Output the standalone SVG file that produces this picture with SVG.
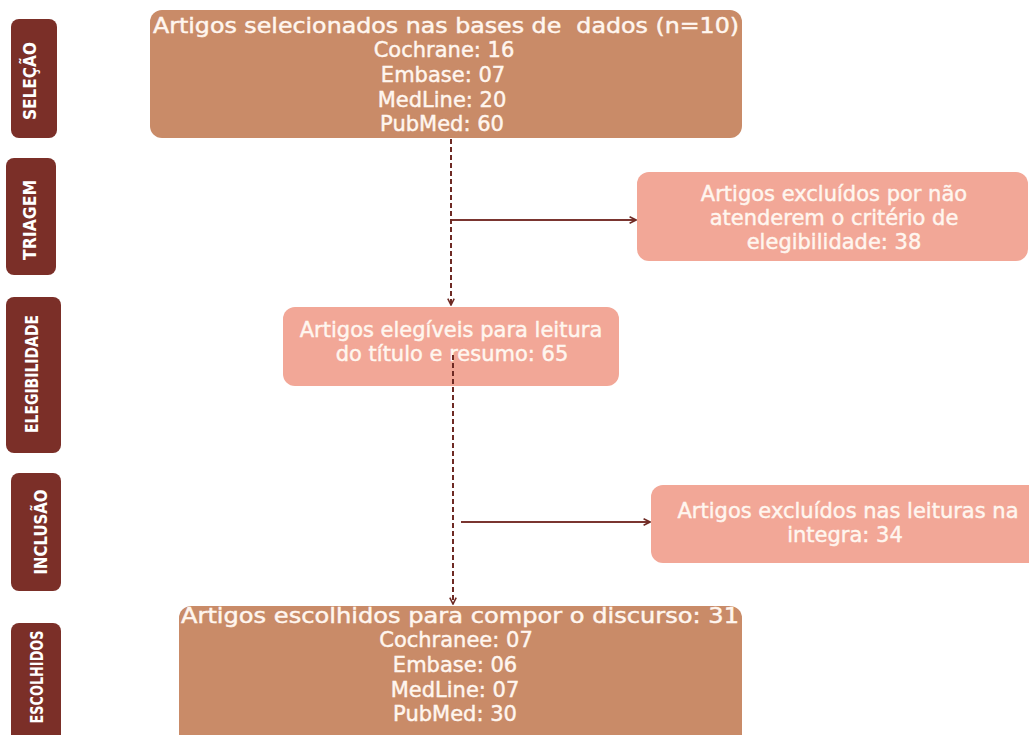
<svg xmlns="http://www.w3.org/2000/svg" width="1029" height="735" viewBox="0 0 1029 735">
<style>
.stage{fill:#7B2F28}
.stxt{font-family:"DejaVu Sans Condensed","DejaVu Sans",sans-serif;font-weight:bold;font-size:18px;fill:#FFFFFF;text-anchor:middle}
.main{fill:#C98B68}
.sal{fill:#F2A797}
.t{font-family:"DejaVu Sans","Noto Sans",sans-serif;font-size:21px;fill:#FFF6EF;stroke:#FFF6EF;stroke-width:0.45;text-anchor:middle}
.dash{stroke:#6E2A24;stroke-width:2;stroke-dasharray:5 3;fill:none}
.solid{stroke:#7A3530;stroke-width:2;fill:none}
</style>
<defs>
<marker id="arr" viewBox="0 0 10 10" refX="9" refY="5" markerWidth="8" markerHeight="8" markerUnits="userSpaceOnUse" orient="auto">
<path d="M1,1 L9,5 L1,9" fill="none" stroke="#6E2A24" stroke-width="2"/>
</marker>
</defs>
<rect width="1029" height="735" fill="#FFFFFF"/>

<g id="stage-selecao">
<rect class="stage" x="11" y="19" width="46" height="119" rx="8"/>
<text class="stxt" transform="translate(36,81) rotate(-90)" textLength="78" lengthAdjust="spacingAndGlyphs">SELEÇÃO</text>
</g>
<g id="stage-triagem">
<rect class="stage" x="6" y="158" width="50" height="117" rx="8"/>
<text class="stxt" transform="translate(36,220) rotate(-90)" textLength="80" lengthAdjust="spacingAndGlyphs">TRIAGEM</text>
</g>
<g id="stage-elegibilidade">
<rect class="stage" x="6" y="297" width="55" height="156" rx="8"/>
<text class="stxt" transform="translate(38,374) rotate(-90)" textLength="118" lengthAdjust="spacingAndGlyphs">ELEGIBILIDADE</text>
</g>
<g id="stage-inclusao">
<rect class="stage" x="11" y="473" width="50" height="118" rx="8"/>
<text class="stxt" transform="translate(47,532) rotate(-90)" textLength="85" lengthAdjust="spacingAndGlyphs">INCLUSÃO</text>
</g>
<g id="stage-escolhidos">
<rect class="stage" x="11" y="623" width="50" height="130" rx="8"/>
<text class="stxt" transform="translate(43,677) rotate(-90)" textLength="93" lengthAdjust="spacingAndGlyphs">ESCOLHIDOS</text>
</g>

<g id="node-selecionados">
<rect class="main" x="150" y="10" width="592" height="128" rx="12"/>
<text class="t" x="446" y="33" xml:space="preserve" textLength="586" lengthAdjust="spacingAndGlyphs">Artigos selecionados nas bases de  dados (n=10)</text>
<text class="t" x="444" y="57">Cochrane: 16</text>
<text class="t" x="443" y="82">Embase: 07</text>
<text class="t" x="442" y="107">MedLine: 20</text>
<text class="t" x="442" y="131">PubMed: 60</text>
</g>

<g id="node-excluidos-criterio">
<rect class="sal" x="637" y="172" width="391" height="89" rx="12"/>
<text class="t" x="834" y="201">Artigos excluídos por não</text>
<text class="t" x="834" y="225">atenderem o critério de</text>
<text class="t" x="834" y="249">elegibilidade: 38</text>
</g>

<g id="node-elegiveis">
<rect class="sal" x="283" y="307" width="336" height="79" rx="12"/>
<text class="t" x="451" y="337">Artigos elegíveis para leitura</text>
<text class="t" x="452" y="361">do título e resumo: 65</text>
</g>

<g id="node-excluidos-leitura">
<rect class="sal" x="651" y="485" width="390" height="78" rx="12"/>
<text class="t" x="848" y="518">Artigos excluídos nas leituras na</text>
<text class="t" x="845" y="542">integra: 34</text>
</g>

<g id="node-escolhidos">
<rect class="main" x="179" y="606" width="563" height="140" rx="12"/>
<text class="t" x="460" y="623" textLength="558" lengthAdjust="spacingAndGlyphs">Artigos escolhidos para compor o discurso: 31</text>
<text class="t" x="456" y="647">Cochranee: 07</text>
<text class="t" x="455" y="672">Embase: 06</text>
<text class="t" x="455" y="697">MedLine: 07</text>
<text class="t" x="455" y="721">PubMed: 30</text>
</g>

<g id="connectors">
<line class="dash" x1="451" y1="139" x2="451" y2="305" marker-end="url(#arr)"/>
<line class="solid" x1="452" y1="220" x2="636" y2="220" marker-end="url(#arr)"/>
<line class="dash" x1="453" y1="355" x2="453" y2="604" marker-end="url(#arr)"/>
<line class="solid" x1="461" y1="522" x2="650" y2="522" marker-end="url(#arr)"/>
</g>
</svg>
